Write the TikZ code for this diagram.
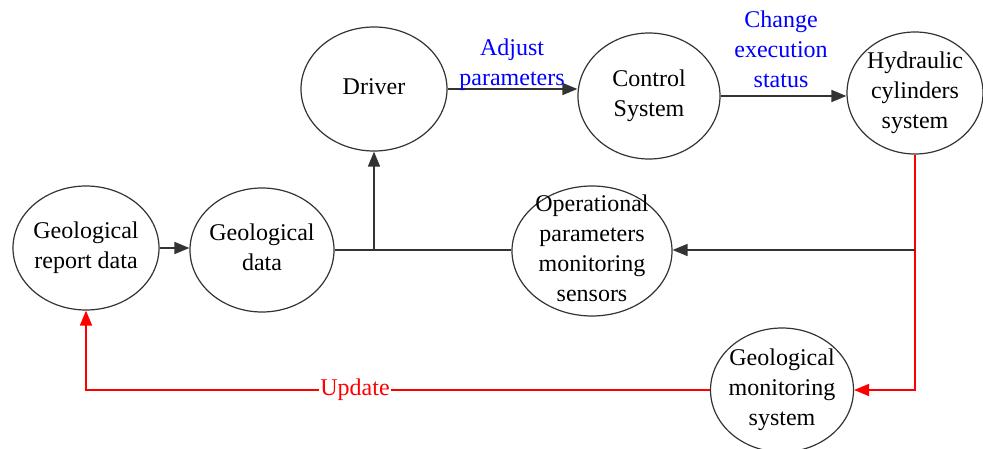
\documentclass[tikz,border=0pt]{standalone}
\usepackage{fontspec}
\setmainfont{Liberation Serif}
\usetikzlibrary{shapes.geometric,arrows.meta}
\newcommand\ctext[1]{\makebox[0pt]{\raisebox{-0.25em}[0pt][0pt]{\begin{tabular}{@{}c@{}}#1\end{tabular}}}}
\begin{document}
\begin{tikzpicture}[x=1pt,y=-1pt,
  font=\fontsize{24}{30}\selectfont,
  ell/.style={draw=black!80, line width=1.2pt, ellipse, inner sep=0pt},
  arr/.style={draw=black!80, line width=1.6pt, -{Triangle[length=15pt,width=12pt]}},
  plain/.style={draw=black!80, line width=1.6pt},
  rarr/.style={draw=red, line width=1.6pt, -{Triangle[length=15pt,width=12pt]}},
  lbl/.style={text=blue, align=center, inner sep=0pt},
  rlbl/.style={text=red, fill=white, inner sep=1pt}]
\useasboundingbox (0,0) rectangle (983,449);
\node[ell, minimum width=146pt, minimum height=124pt] (rd) at (86,248) {\ctext{Geological\\report data}};
\node[ell, minimum width=144pt, minimum height=124pt] (gd) at (262,250) {\ctext{Geological\\data}};
\node[ell, minimum width=146pt, minimum height=124pt] (dr) at (374,89) {\ctext{Driver}};
\node[ell, minimum width=142pt, minimum height=126pt] (cs) at (649,96) {\ctext{Control\\System}};
\node[ell, minimum width=136pt, minimum height=122pt] (hy) at (915,93) {\ctext{Hydraulic\\cylinders\\system}};
\node[ell, minimum width=160pt, minimum height=130pt] (op) at (592,251) {\ctext{Operational\\parameters\\monitoring\\sensors}};
\node[ell, minimum width=143pt, minimum height=124pt] (gm) at (782,390) {\ctext{Geological\\monitoring\\system}};
\coordinate (j) at (374,250);
\coordinate (k) at (915,250);
\draw[arr] (rd.east) -- (rd.east -| gd.west);
\draw[plain] (gd.east) -- (gd.east -| op.west);
\draw[arr] (j) -- (dr.south);
\draw[arr] (dr.east) -- (dr.east -| cs.west);
\draw[arr] (cs.east) -- (cs.east -| hy.west);
\draw[rarr] (hy.south) |- (gm.east);
\draw[arr] (k) -- (k -| op.east);
\draw[rarr] (gm.west) -| (rd.south);
\node[rlbl] (upd) at (355,390) {Update};
\node[lbl] (adj) at (512,65) {Adjust\\parameters};
\node[lbl] (chg) at (781,49) {Change\\execution\\status};
\end{tikzpicture}
\end{document}
